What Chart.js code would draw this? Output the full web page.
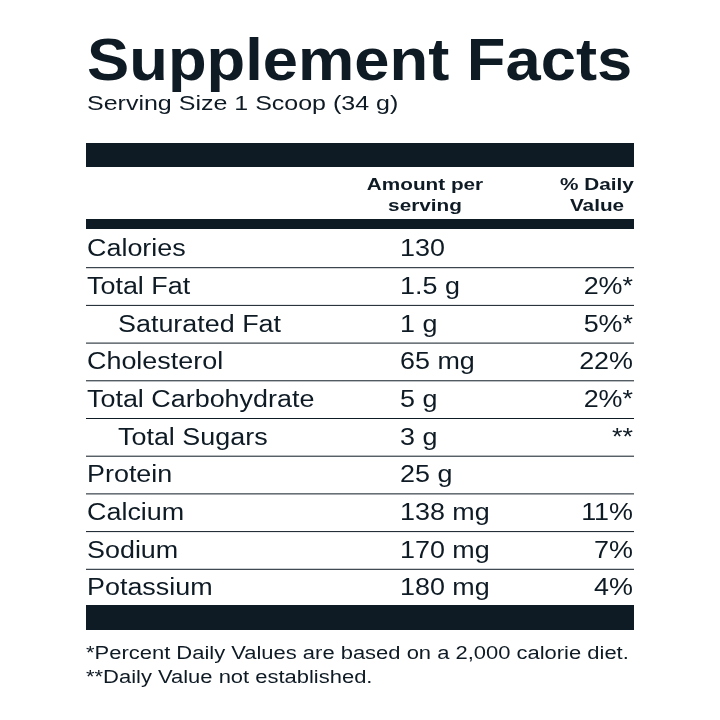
<!DOCTYPE html>
<html>
<head>
<meta charset="utf-8">
<script src="https://cdn.jsdelivr.net/npm/chart.js@4/dist/chart.umd.min.js"></script>
<style>
  html, body { margin: 0; padding: 0; background: #fff; }
  #wrap { width: 720px; height: 720px; }
</style>
</head>
<body>
<div id="wrap"><canvas id="facts"></canvas></div>
<script>
const title = "Supplement Facts";
const servingSize = "Serving Size 1 Scoop (34 g)";
const headerAmount = ["Amount per", "serving"];
const headerDV = ["% Daily", "Value"];
const nutrients = ["Calories", "Total Fat", "Saturated Fat", "Cholesterol", "Total Carbohydrate",
  "Total Sugars", "Protein", "Calcium", "Sodium", "Potassium"];
const indented = [false, false, true, false, false, true, false, false, false, false];
const amounts = ["130", "1.5 g", "1 g", "65 mg", "5 g", "3 g", "25 g", "138 mg", "170 mg", "180 mg"];
const dailyValues = ["", "2%*", "5%*", "22%", "2%*", "**", "", "11%", "7%", "4%"];
const footnotes = ["*Percent Daily Values are based on a 2,000 calorie diet.",
  "**Daily Value not established."];

const ink = "#0e1a24";
const font = "'Liberation Sans', Arial, sans-serif";

// draw text stretched horizontally by sx around its anchor
function wideText(ctx, text, x, y, sx) {
  ctx.save();
  ctx.translate(x, y);
  ctx.scale(sx, 1);
  ctx.fillText(text, 0, 0);
  ctx.restore();
}

const factsPanel = {
  id: "factsPanel",
  afterDraw(chart) {
    const { ctx, chartArea: a, scales: { y } } = chart;
    const left = a.left, right = a.right;
    const rowH = y.getPixelForValue(1) - y.getPixelForValue(0);
    ctx.save();
    ctx.fillStyle = ink;
    ctx.strokeStyle = ink;

    // title & serving
    ctx.textBaseline = "alphabetic";
    ctx.textAlign = "left";
    ctx.font = "bold 60px " + font;
    wideText(ctx, title, left + 1, 80, 1.055);
    ctx.font = "20px " + font;
    wideText(ctx, servingSize, left + 1, 110, 1.25);

    // thick bars
    ctx.fillRect(left, 143, right - left, 24);
    ctx.fillRect(left, a.top - 11, right - left, 10);
    ctx.fillRect(left, a.bottom - 2, right - left, 25);

    // headers
    ctx.font = "bold 17px " + font;
    ctx.textAlign = "center";
    wideText(ctx, headerAmount[0], 425, 190, 1.22);
    wideText(ctx, headerAmount[1], 425, 211, 1.22);
    wideText(ctx, headerDV[0], 597, 190, 1.22);
    wideText(ctx, headerDV[1], 597, 211, 1.22);

    // rows
    ctx.font = "23px " + font;
    ctx.textBaseline = "middle";
    nutrients.forEach((name, i) => {
      const py = y.getPixelForValue(i) + 1;
      ctx.textAlign = "left";
      wideText(ctx, name, indented[i] ? left + 32 : left + 1, py, 1.17);
      wideText(ctx, amounts[i], 400, py, 1.17);
      ctx.textAlign = "right";
      wideText(ctx, dailyValues[i], right - 1, py, 1.17);
      if (i < nutrients.length - 1) {
        ctx.lineWidth = 1;
        ctx.beginPath();
        ctx.moveTo(left, py - 1 + rowH / 2);
        ctx.lineTo(right, py - 1 + rowH / 2);
        ctx.stroke();
      }
    });

    // footnotes
    ctx.textAlign = "left";
    ctx.textBaseline = "alphabetic";
    ctx.font = "18px " + font;
    wideText(ctx, footnotes[0], left, 659, 1.22);
    wideText(ctx, footnotes[1], left, 683, 1.22);
    ctx.restore();
  }
};

new Chart(document.getElementById("facts"), {
  type: "bar",
  data: { labels: nutrients, datasets: [{ data: nutrients.map(() => 0), backgroundColor: "transparent" }] },
  options: {
    indexAxis: "y",
    responsive: true,
    maintainAspectRatio: false,
    animation: false,
    events: [],
    layout: { padding: { left: 86, right: 86, top: 230, bottom: 113 } },
    plugins: { legend: { display: false }, tooltip: { enabled: false } },
    scales: {
      x: { display: false, min: 0, max: 1 },
      y: { display: false }
    }
  },
  plugins: [factsPanel]
});
</script>
</body>
</html>
